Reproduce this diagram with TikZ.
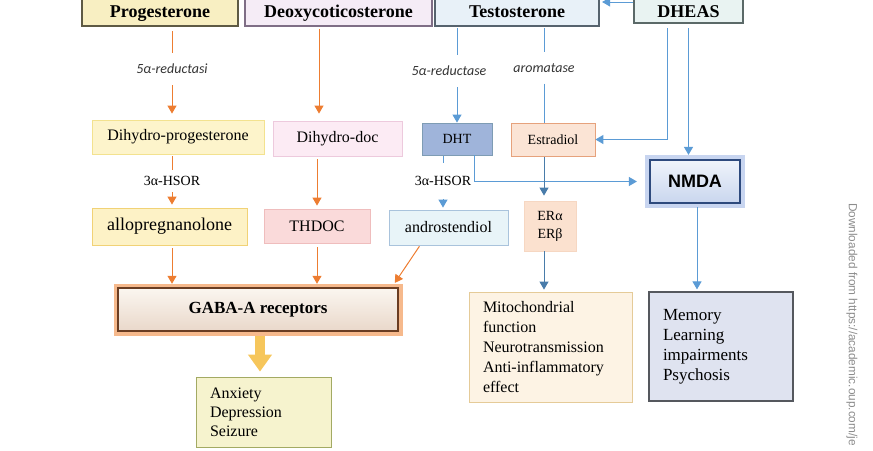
\documentclass[tikz,border=0pt]{standalone}
\usepackage{fontspec}
\setmainfont{Liberation Serif}
\setsansfont{Liberation Sans}
\newfontfamily\enzfont{Carlito}
\usetikzlibrary{arrows.meta}

\definecolor{orarr}{HTML}{ED7D31}
\definecolor{blarr}{HTML}{5B9BD5}
\definecolor{progfill}{HTML}{F8EFC2}
\definecolor{progdraw}{HTML}{5E5A44}
\definecolor{deoxfill}{HTML}{F5ECF6}
\definecolor{deoxdraw}{HTML}{7F6E86}
\definecolor{testfill}{HTML}{E8F1F8}
\definecolor{testdraw}{HTML}{56636E}
\definecolor{dhfill}{HTML}{E9F3F2}
\definecolor{dhdraw}{HTML}{5B6968}
\definecolor{dpfill}{HTML}{FDF4CB}
\definecolor{dpdraw}{HTML}{F3E28F}
\definecolor{ddfill}{HTML}{FCEBF4}
\definecolor{dddraw}{HTML}{EDCADD}
\definecolor{dhtfill}{HTML}{9FB4DA}
\definecolor{dhtdraw}{HTML}{7E9CB4}
\definecolor{efill}{HTML}{FBE4D5}
\definecolor{edraw}{HTML}{E6A27C}
\definecolor{apfill}{HTML}{FDF2C6}
\definecolor{apdraw}{HTML}{F1D276}
\definecolor{thfill}{HTML}{FADADA}
\definecolor{thdraw}{HTML}{EFBDBD}
\definecolor{adfill}{HTML}{E8F4F8}
\definecolor{addraw}{HTML}{A9C3DC}
\definecolor{erfill}{HTML}{FBE1CF}
\definecolor{erdraw}{HTML}{F6D7C2}
\definecolor{nmdraw}{HTML}{2E4A7D}
\definecolor{nmtop}{HTML}{F0F4FB}
\definecolor{nmbot}{HTML}{C9D6EE}
\definecolor{nmglow}{HTML}{C8D5F0}
\definecolor{gadraw}{HTML}{6A3D22}
\definecolor{gatop}{HTML}{FBF6F0}
\definecolor{gabot}{HTML}{E9D8CA}
\definecolor{gaglow}{HTML}{F6B98C}
\definecolor{axfill}{HTML}{F6F3CE}
\definecolor{axdraw}{HTML}{A3AA63}
\definecolor{mifill}{HTML}{FDF3E4}
\definecolor{midraw}{HTML}{E5CB98}
\definecolor{mefill}{HTML}{DFE3F0}
\definecolor{medraw}{HTML}{55585E}
\definecolor{wmgray}{HTML}{8C8C8C}
\definecolor{enzgray}{HTML}{333333}
\definecolor{bigarr}{HTML}{F6C65B}

\begin{document}
\begin{tikzpicture}[x=1pt, y=-1pt,
  topbox/.style={draw, line width=2.2pt, inner sep=0pt, anchor=base, text height=42pt, text depth=9pt,
    font=\fontsize{18}{20}\selectfont\bfseries},
  box/.style={draw, line width=0.8pt, inner sep=0pt, font=\fontsize{16}{19}\selectfont},
  small/.style={box, font=\fontsize{14}{18}\selectfont},
  list/.style={box, align=left, inner xsep=14pt, inner ysep=0pt},
  enz/.style={inner sep=0pt, minimum height=32pt, text=enzgray, font=\fontsize{14}{16}\enzfont\itshape},
  hsor/.style={inner sep=0pt, font=\fontsize{14}{16}\selectfont},
  oline/.style={orarr, line width=1pt},
  bline/.style={blarr, line width=1pt},
  oa/.style={oline, -{Triangle[width=9pt,length=8pt]}, shorten >=3pt},
  ba/.style={bline, -{Triangle[width=9pt,length=8pt]}, shorten >=2pt}]
  \useasboundingbox (0,0) rectangle (873,450);
  \clip (0,0) rectangle (873,450);

  \node [topbox, fill=progfill, draw=progdraw, minimum width=156pt] (P) at (160,17) {Progesterone};
  \node [topbox, fill=deoxfill, draw=deoxdraw, minimum width=187pt] (D) at (338.5,17) {Deoxycoticosterone};
  \node [topbox, fill=testfill, draw=testdraw, minimum width=164pt] (T) at (517,17) {Testosterone};
  \node [topbox, fill=dhfill, draw=dhdraw, minimum width=109pt, text depth=6pt] (DH) at (688.5,17) {DHEAS};

  \node [enz] (r1) at (172,69) {5α-reductasi};
  \node [enz] (r2) at (449,71) {5α-reductase};
  \node [enz, minimum height=31pt] (ar) at (544,68) {aromatase};

  \node [box, fill=dpfill, draw=dpdraw, minimum width=172pt, minimum height=34pt] (DP) at (178,137) {Dihydro-progesterone};
  \node [box, fill=ddfill, draw=dddraw, minimum width=129pt, minimum height=35pt] (DD) at (337.5,138.5) {Dihydro-doc};
  \node [small, fill=dhtfill, draw=dhtdraw, minimum width=70pt, minimum height=32pt] (DHT) at (457,139) {DHT};
  \node [small, fill=efill, draw=edraw, minimum width=84pt, minimum height=33pt] (E) at (553,139.5) {Estradiol};

  \node [hsor, minimum height=22pt] (h1) at (172,181) {3α-HSOR};
  \node [hsor, minimum height=36pt] (h2) at (443,181) {3α-HSOR};

  \node [box, font=\fontsize{18}{20}\selectfont, fill=apfill, draw=apdraw, minimum width=155pt, minimum height=37pt] (AP) at (169.5,226.5) {allopregnanolone};
  \node [box, fill=thfill, draw=thdraw, minimum width=106pt, minimum height=34pt] (TH) at (317,226) {THDOC};
  \node [box, fill=adfill, draw=addraw, minimum width=119pt, minimum height=35pt] (AD) at (448.5,227.5) {androstendiol};
  \node [small, align=center, fill=erfill, draw=erdraw, minimum width=52pt, minimum height=50pt] (ER) at (550,226) {ERα\\ERβ};

  \node [draw=nmdraw, line width=2.2pt, inner sep=0pt, minimum width=90pt, minimum height=43pt,
    top color=nmtop, bottom color=nmbot, preaction={draw=nmglow, line width=10pt},
    font=\fontsize{18}{20}\sffamily\bfseries] (NM) at (695,181.5) {NMDA};

  \node [draw=gadraw, line width=2.4pt, inner sep=0pt, minimum width=280pt, minimum height=43pt,
    top color=gatop, bottom color=gabot, preaction={draw=gaglow, line width=9pt},
    font=\fontsize{17}{20}\selectfont\bfseries] (GA) at (258,309.5) {GABA-A receptors};

  \node [list, text width=107pt, fill=axfill, draw=axdraw, minimum height=70pt] (AX) at (263.5,412) {Anxiety\\Depression\\Seizure};
  \node [list, text width=135pt, font=\fontsize{16}{20}\selectfont, fill=mifill, draw=midraw, minimum height=110pt] (MI) at (550.5,347)
    {Mitochondrial\\function\\Neurotransmission\\Anti-inflammatory\\effect};
  \node [list, text width=116pt, font=\fontsize{17}{20}\selectfont, fill=mefill, draw=medraw, line width=1.2pt, minimum height=109pt] (ME) at (721,346.5)
    {Memory\\Learning\\impairments\\Psychosis\\[10pt]};

  \node [rotate=-90, anchor=west, inner sep=0pt, text=wmgray, font=\fontsize{11.8}{14}\sffamily] (wm) at (852,203) {Downloaded from https://academic.oup.com/je};

  \draw [oline, shorten <=4pt] (r1 |- P.south) -- (r1.north);
  \draw [oa, shorten >=6pt] (r1.south) -- (r1 |- DP.north);
  \draw [oline, shorten <=2pt] (h1 |- DP.south) -- (h1.north);
  \draw [oa] (h1.south) -- (h1 |- AP.north);
  \draw [oa, shorten <=2pt, shorten >=7pt] ([xshift=-19.5pt]D.south) -- ([xshift=-19.5pt]D.south |- DD.north);
  \draw [oa, shorten <=3pt] (TH.north |- DD.south) -- (TH.north);
  \draw [oa, shorten <=3pt] (r1 |- AP.south) -- (r1 |- GA.north);
  \draw [oa, shorten <=4pt] (TH.south) -- (TH.south |- GA.north);
  \draw [oa, shorten <=1pt, shorten >=1pt] ([xshift=-28.5pt]AD.south) -- ([shift={(-5pt,3pt)}]GA.north east);

  \draw [ba] ([yshift=-3pt]DH.west) -- ([yshift=-3pt]DH.west -| T.east);
  \draw [bline, shorten <=1pt] (DHT.north |- T.south) -- (DHT.north |- r2.north);
  \draw [ba, shorten >=0pt] (DHT.north |- r2.south) -- (DHT.north);
  \draw [bline, shorten <=1pt] (ar |- T.south) -- (ar.north);
  \draw [bline] (ar.south) -- (ar |- E.north);
  \draw [ba, shorten <=4pt, shorten >=0pt] ([xshift=-21.5pt]DH.south) |- (E.east);
  \draw [ba, shorten <=4pt, shorten >=4pt] (DH.south) -- (DH.south |- NM.north);
  \draw [ba, shorten >=12pt] ([xshift=17pt]DHT.south) |- (NM.west);
  \draw [bline, shorten <=1pt] (h2 |- DHT.south) -- (h2.north);
  \draw [ba] (h2.south) -- (h2 |- AD.north);
  \draw [ba, blarr!80!black, shorten <=1pt, shorten >=5pt] (ar |- E.south) -- (ar |- ER.north);
  \draw [ba, blarr!80!black] (ar |- ER.south) -- (ar |- MI.north);
  \draw [ba, shorten <=3pt] ([xshift=2pt]NM.south) -- ([xshift=2pt]NM.south |- ME.north);

  \draw [bigarr, line width=9.5pt, -{Triangle[width=23pt,length=17pt]}, shorten <=4pt, shorten >=5pt] ([xshift=2pt]GA.south) -- ([xshift=2pt]GA.south |- AX.north);
\end{tikzpicture}
\end{document}
